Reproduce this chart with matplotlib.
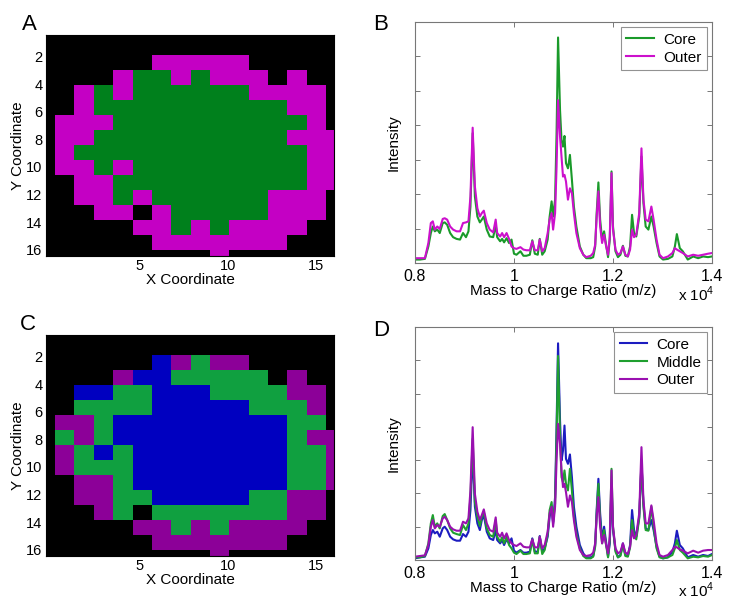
import matplotlib
matplotlib.use('Agg')
import matplotlib.pyplot as plt
import numpy as np
from matplotlib.colors import ListedColormap

plt.rcParams['font.family'] = ['Liberation Sans', 'DejaVu Sans']
plt.rcParams['mathtext.fontset'] = 'custom'
plt.rcParams['mathtext.rm'] = 'Liberation Sans'

# ---------------- map data (rows top->bottom, columns left->right) ----------------
# K = background, G = core (green), M = outer (magenta)
map_a_rows = [
    "KKKKKKKKKKKKKKKK",
    "KKKKKKKKKKKKKKKK",
    "KKKKKKMMMMMKKKKK",
    "KKKKMGGMGMMMKMKK",
    "KKMGMGGGGGGMMMMK",
    "KKMGGGGGGGGGGMMK",
    "KMMMGGGGGGGGGGMK",
    "KMMGGGGGGGGGGMMM",
    "KMGGGGGGGGGGGGMM",
    "KMMGMGGGGGGGGGMM",
    "KKMMGGGGGGGGGGMM",
    "KKMMGMGGGGGGMMMK",
    "KKKMMKMGGGGGMMMK",
    "KKKKKMMGMGMMMMKK",
    "KKKKKKMMMMMMMKKK",
    "KKKKKKKKKMKKKKKK",
]
map_a_keys = ["K", "G", "M"]
map_a_colors = ["#000000", "#00801c", "#c400c4"]

# K = background, B = core (blue), G = middle (green), P = outer (purple)
map_c_rows = [
    "KKKKKKKKKKKKKKKK",
    "KKKKKKKKKKKKKKKK",
    "KKKKKKBPGPPKKKKK",
    "KKKKPBBGGGGGKPKK",
    "KKBBGGBBBGGGGPPK",
    "KKGGGGBBBBBGGGPK",
    "KPPGBBBBBBBBBGGK",
    "KGPGBBBBBBBBBGPP",
    "KPGBGBBBBBBBBGGP",
    "KPGGGBBBBBBBBGGP",
    "KKPPGBBBBBBBBGGP",
    "KKPPGGBBBBBGGPPK",
    "KKKPGKGGGGGGGPPK",
    "KKKKKPPGPGPPPPKK",
    "KKKKKKPPPPPPPKKK",
    "KKKKKKKKKPKKKKKK",
]
map_c_keys = ["K", "B", "G", "P"]
map_c_colors = ["#000000", "#0000c0", "#10a040", "#8c0098"]

map_xticks = [5, 10, 15]
map_yticks = [2, 4, 6, 8, 10, 12, 14, 16]

# ---------------- spectra data ----------------
mz = [8000, 8100, 8200, 8270, 8320, 8360, 8400, 8450, 8500, 8560, 8600, 8650, 8710, 8770,
      8840, 8910, 8970, 9030, 9080, 9120, 9165, 9210, 9260, 9310, 9350, 9390, 9450, 9510,
      9580, 9630, 9660, 9720, 9760, 9800, 9850, 9900, 9950, 10000, 10050, 10130, 10190,
      10250, 10320, 10370, 10420, 10480, 10520, 10570, 10620, 10680, 10720, 10760, 10790,
      10830, 10860, 10890, 10930, 10960, 10990, 11020, 11050, 11090, 11130, 11170, 11210,
      11260, 11330, 11400, 11460, 11550, 11600, 11640, 11670, 11705, 11740, 11780, 11820,
      11855, 11900, 11935, 11970, 12000, 12050, 12100, 12150, 12200, 12250, 12300, 12345,
      12385, 12425, 12470, 12530, 12575, 12615, 12660, 12715, 12775, 12820, 12880, 12940,
      13010, 13110, 13200, 13250, 13290, 13350, 13410, 13510, 13620, 13720, 13820, 13920,
      14000]

b_core = [0.10, 0.10, 0.12, 0.48, 0.87, 1.06, 0.92, 0.97, 0.87, 1.16, 1.18, 1.11, 0.87, 0.75,
          0.70, 0.68, 0.87, 0.75, 0.92, 1.64, 3.77, 1.93, 1.35, 1.18, 1.26, 1.35, 0.97, 0.77,
          0.75, 1.11, 0.75, 0.63, 0.70, 0.60, 0.72, 0.58, 0.68, 0.27, 0.24, 0.34, 0.21,
          0.21, 0.24, 0.66, 0.27, 0.24, 0.70, 0.24, 0.34, 0.68, 1.35, 1.79, 1.35,
          1.84, 3.77, 6.55, 4.44, 3.57, 3.38, 3.69, 2.90, 2.75, 3.14, 2.42, 1.64,
          1.06, 0.48, 0.24, 0.14, 0.14, 0.17, 0.48, 1.45, 2.34, 1.26, 0.68, 0.92,
          0.58, 0.17, 0.68, 2.66, 1.06, 0.34, 0.17, 0.24, 0.50, 0.21, 0.19, 0.48,
          1.40, 0.87, 0.77, 1.35, 3.09, 1.74, 1.06, 0.97, 1.35, 1.06, 0.58, 0.19,
          0.10, 0.12, 0.19, 0.48, 0.84, 0.43, 0.34, 0.10, 0.19, 0.14, 0.19, 0.17,
          0.19]
b_outer = [0.14, 0.14, 0.14, 0.58, 1.16, 1.21, 0.97, 1.06, 0.99, 1.28, 1.30, 1.26, 1.06, 0.97,
           0.92, 0.92, 1.16, 1.18, 1.21, 1.93, 3.93, 2.22, 1.59, 1.35, 1.45, 1.52, 1.16, 0.97,
           0.89, 1.26, 0.87, 0.77, 0.87, 0.75, 0.87, 0.70, 0.48, 0.43, 0.41, 0.46, 0.39,
           0.37, 0.37, 0.63, 0.37, 0.37, 0.68, 0.34, 0.43, 0.87, 1.26, 1.45, 0.97,
           1.45, 2.80, 4.73, 3.67, 3.09, 2.51, 2.56, 2.37, 1.84, 2.17, 2.03, 1.45,
           0.87, 0.43, 0.24, 0.17, 0.21, 0.29, 0.53, 1.35, 2.08, 1.06, 0.58, 0.82,
           0.53, 0.24, 0.77, 2.61, 0.97, 0.39, 0.24, 0.29, 0.48, 0.24, 0.19, 0.39,
           0.97, 0.75, 0.82, 1.45, 3.33, 1.84, 1.26, 1.21, 1.64, 1.26, 0.68, 0.24,
           0.14, 0.19, 0.29, 0.43, 0.39, 0.34, 0.29, 0.19, 0.24, 0.21, 0.24, 0.27,
           0.29]

d_core = [0.05, 0.08, 0.10, 0.35, 0.75, 0.90, 0.80, 0.85, 0.70, 0.95, 1.00, 0.90, 0.70, 0.62,
          0.58, 0.58, 0.78, 0.70, 0.85, 1.50, 3.29, 1.60, 1.10, 0.90, 1.20, 1.35, 0.85, 0.65,
          0.60, 0.90, 0.60, 0.50, 0.60, 0.45, 0.62, 0.50, 0.65, 0.28, 0.22, 0.30, 0.22,
          0.22, 0.25, 0.65, 0.25, 0.25, 0.72, 0.25, 0.35, 0.70, 1.30, 1.60, 1.10,
          1.89, 3.99, 6.51, 4.19, 2.99, 3.29, 4.04, 3.04, 2.89, 3.17, 2.49, 1.60,
          1.00, 0.45, 0.20, 0.08, 0.08, 0.12, 0.45, 1.50, 2.44, 1.40, 0.60, 1.00,
          0.60, 0.10, 0.50, 2.29, 0.90, 0.30, 0.08, 0.15, 0.50, 0.15, 0.12, 0.45,
          1.50, 0.90, 0.70, 1.30, 2.89, 1.69, 0.95, 0.90, 1.20, 0.90, 0.40, 0.10,
          0.05, 0.08, 0.25, 0.50, 0.88, 0.45, 0.35, 0.08, 0.15, 0.10, 0.15, 0.12,
          0.18]
d_middle = [0.08, 0.08, 0.12, 0.50, 1.10, 1.35, 1.00, 1.10, 0.95, 1.32, 1.38, 1.20, 0.95, 0.82,
            0.78, 0.75, 1.05, 0.90, 1.10, 1.89, 3.64, 1.74, 1.30, 1.02, 1.30, 1.45, 0.95, 0.75,
            0.70, 1.20, 0.70, 0.55, 0.68, 0.50, 0.70, 0.45, 0.35, 0.22, 0.18, 0.28, 0.18,
            0.18, 0.20, 0.62, 0.20, 0.20, 0.70, 0.18, 0.30, 0.78, 1.50, 1.74, 1.15,
            1.69, 3.69, 6.13, 3.69, 2.49, 2.34, 2.69, 2.29, 2.09, 2.74, 2.09, 1.30,
            0.80, 0.35, 0.12, 0.05, 0.05, 0.10, 0.40, 1.40, 2.29, 1.20, 0.50, 0.90,
            0.50, 0.08, 0.60, 2.74, 1.00, 0.25, 0.08, 0.12, 0.45, 0.12, 0.10, 0.38,
            1.20, 0.75, 0.62, 1.25, 2.99, 1.60, 0.90, 0.88, 1.60, 1.00, 0.35, 0.08,
            0.05, 0.08, 0.15, 0.35, 0.60, 0.30, 0.22, 0.05, 0.10, 0.08, 0.12, 0.10,
            0.15]
d_outer = [0.10, 0.12, 0.14, 0.45, 1.00, 1.20, 0.95, 1.05, 1.00, 1.25, 1.30, 1.20, 1.00, 0.92,
           0.88, 0.88, 1.15, 1.10, 1.25, 2.09, 3.99, 1.99, 1.45, 1.20, 1.35, 1.52, 1.10, 0.90,
           0.85, 1.28, 0.82, 0.70, 0.82, 0.65, 0.80, 0.60, 0.50, 0.45, 0.42, 0.50, 0.40,
           0.38, 0.38, 0.62, 0.38, 0.38, 0.70, 0.35, 0.45, 0.85, 1.40, 1.60, 1.00,
           1.60, 2.99, 4.09, 3.49, 2.69, 2.19, 2.29, 2.04, 1.60, 1.94, 1.74, 1.20,
           0.70, 0.30, 0.15, 0.12, 0.15, 0.22, 0.50, 1.30, 1.89, 1.00, 0.50, 0.75,
           0.50, 0.20, 0.70, 2.69, 1.00, 0.35, 0.20, 0.25, 0.50, 0.22, 0.18, 0.40,
           0.90, 0.65, 0.75, 1.40, 3.39, 1.79, 1.10, 1.10, 1.64, 1.20, 0.50, 0.15,
           0.10, 0.15, 0.30, 0.40, 0.38, 0.32, 0.28, 0.20, 0.28, 0.22, 0.28, 0.30,
           0.30]

spec_xticks = [8000, 10000, 12000, 14000]
spec_xticklabels = ["0.8", "1", "1.2", "1.4"]
spec_yticks = [1, 2, 3, 4, 5, 6]

# ---------------- figure ----------------
W, H = 750, 606
fig = plt.figure(figsize=(W / 100, H / 100), dpi=100)


def add_ax(l, t, r, b):
    return fig.add_axes([l / W, 1 - b / H, (r - l) / W, (b - t) / H])


# pixel grid of the maps in axis units
grid_x0, grid_dx = -0.83, 1.0926
grid_y0, grid_dy = -0.30, 1.086


def draw_map(ax, rows, keys, colors):
    codes = np.array([[keys.index(ch) for ch in row] for row in rows])
    xe = grid_x0 + grid_dx * np.arange(codes.shape[1] + 1)
    ye = grid_y0 + grid_dy * np.arange(codes.shape[0] + 1)
    ax.set_facecolor("black")
    ax.pcolormesh(xe, ye, codes, cmap=ListedColormap(colors), vmin=-0.5,
                  vmax=len(colors) - 0.5, shading="flat", edgecolors="face",
                  linewidth=0, antialiased=False)
    ax.set_xlim(-0.25, 16.0)
    ax.set_ylim(16.45, 0.45)
    ax.set_xticks(map_xticks)
    ax.set_yticks(map_yticks)
    ax.tick_params(length=0, labelsize=10.5, pad=2.5)
    for s in ax.spines.values():
        s.set_color("black")
    ax.set_xlabel("X Coordinate", fontsize=11, labelpad=0)
    ax.set_ylabel("Y Coordinate", fontsize=11, labelpad=1)


def draw_spec(ax, series, colors, labels):
    for y, c, lab in zip(series, colors, labels):
        ax.plot(mz, y, color=c, lw=1.5, label=lab)
    ax.set_xlim(8000, 14000)
    ax.set_ylim(0, 7)
    ax.set_xticks(spec_xticks)
    ax.set_xticklabels(spec_xticklabels)
    ax.set_yticks(spec_yticks)
    ax.set_yticklabels([])
    ax.tick_params(direction="in", length=3.5, width=0.7, top=True, right=True,
                   color="#777777", labelsize=11.5, pad=4)
    for s in ax.spines.values():
        s.set_color("#777777")
        s.set_linewidth(0.8)
    ax.set_xlabel("Mass to Charge Ratio (m/z)", fontsize=11, labelpad=0)
    ax.set_ylabel("Intensity", fontsize=11, labelpad=6)
    ax.text(1.01, -0.13, r"x 10$^{4}$", transform=ax.transAxes, ha="right",
            va="center", fontsize=11)
    leg = ax.legend(loc="upper right", fontsize=11, frameon=True, fancybox=False,
                    handlelength=1.8, handletextpad=0.6, borderpad=0.35,
                    labelspacing=0.25, borderaxespad=0.35)
    leg.get_frame().set_edgecolor("#777777")
    leg.get_frame().set_linewidth(0.8)


ax_a = add_ax(46, 35, 334, 256)
draw_map(ax_a, map_a_rows, map_a_keys, map_a_colors)

ax_c = add_ax(46, 335, 334, 556)
draw_map(ax_c, map_c_rows, map_c_keys, map_c_colors)

ax_b = add_ax(415, 22, 712, 263)
draw_spec(ax_b, [b_core, b_outer], ["#1a9a2a", "#cc10cc"], ["Core", "Outer"])

ax_d = add_ax(415, 327, 712, 560)
draw_spec(ax_d, [d_core, d_middle, d_outer], ["#1c1cc0", "#1f9f2f", "#9a10b0"],
          ["Core", "Middle", "Outer"])

for lab, (px, py) in zip(["A", "B", "C", "D"], [(29, 24), (381, 24), (28, 325), (381, 331)]):
    fig.text(px / W, 1 - py / H, lab, fontsize=16, ha="center", va="center")

fig.savefig("out.png", dpi=100)
